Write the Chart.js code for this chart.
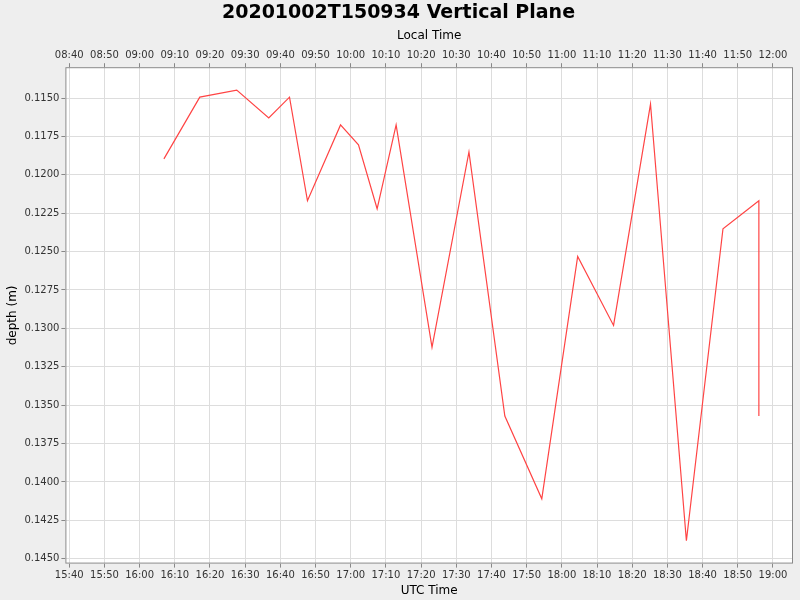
<!DOCTYPE html>
<html>
<head>
<meta charset="utf-8">
<script src="https://cdn.jsdelivr.net/npm/chart.js@4/dist/chart.umd.min.js"></script>
<style>
  body { margin: 0; background: #eeeeee; }
</style>
</head>
<body>
<canvas id="grafico" width="800" height="600"></canvas>
<script>
// minutos desde 15:40 UTC
const minutosUtc = [26.9, 37.1, 47.6, 56.7, 62.6, 67.7, 77.1, 82.2, 87.5, 92.9, 103.1,
  113.6, 123.8, 134.3, 144.5, 154.7, 165.2, 175.4, 185.8, 196.0, 196.0];
const profundidade = [0.11896, 0.11494, 0.11448, 0.11630, 0.11494, 0.12169, 0.11675,
  0.11805, 0.12221, 0.11675, 0.13123, 0.11851, 0.13571, 0.14110, 0.12532, 0.12981,
  0.11539, 0.14383, 0.12351, 0.12169, 0.13571];
const ticksTempo = [0, 10, 20, 30, 40, 50, 60, 70, 80, 90, 100, 110, 120, 130, 140,
  150, 160, 170, 180, 190, 200];
const ticksProfundidade = [0.1150, 0.1175, 0.1200, 0.1225, 0.1250, 0.1275, 0.1300,
  0.1325, 0.1350, 0.1375, 0.1400, 0.1425, 0.1450];
const inicioUtc = 15 * 60 + 40;
const fusoLocal = -7 * 60;

function formatarHora(min) {
  const t = ((Math.round(min) % 1440) + 1440) % 1440;
  return String(Math.floor(t / 60)).padStart(2, '0') + ':' + String(t % 60).padStart(2, '0');
}

const fundoPlot = {
  id: 'fundoPlot',
  beforeDraw(chart) {
    const { ctx, chartArea: a } = chart;
    ctx.save();
    ctx.fillStyle = '#ffffff';
    ctx.fillRect(a.left, a.top, a.width, a.height);
    ctx.restore();
  },
  afterDraw(chart) {
    const { ctx, chartArea: a } = chart;
    ctx.save();
    ctx.strokeStyle = '#888888';
    ctx.lineWidth = 1;
    ctx.strokeRect(a.left + 0.5, a.top + 0.5, a.width - 1, a.height - 1);
    ctx.restore();
  }
};

const grade = { color: '#dddddd', tickColor: '#888888', tickLength: 4 };
const borda = { dash: [3, 3], color: '#888888' };
const fonte = { family: 'DejaVu Sans', size: 10 };

new Chart(document.getElementById('grafico').getContext('2d'), {
  type: 'line',
  data: {
    datasets: [{
      data: minutosUtc.map((m, i) => ({ x: m, y: profundidade[i] })),
      borderColor: '#ff4444',
      borderWidth: 1.2,
      pointRadius: 0,
      tension: 0
    }]
  },
  options: {
    responsive: false,
    animation: false,
    layout: { padding: { left: 4, right: 7, top: 0, bottom: 2 } },
    plugins: {
      legend: { display: false },
      tooltip: { enabled: false },
      title: {
        display: true,
        text: '20201002T150934 Vertical Plane',
        color: '#000000',
        font: { family: 'DejaVu Sans', size: 19, weight: 'bold' },
        padding: { top: 2, bottom: 4 }
      }
    },
    scales: {
      x: {
        type: 'linear',
        position: 'bottom',
        min: -1.1,
        max: 205.7,
        afterBuildTicks: ax => { ax.ticks = ticksTempo.map(v => ({ value: v })); },
        ticks: { color: '#333333', font: fonte, maxRotation: 0, autoSkip: false, padding: 2,
          callback: v => formatarHora(inicioUtc + v) },
        grid: Object.assign({ drawOnChartArea: true }, grade),
        border: { display: false },
        title: { display: true, text: 'UTC Time', color: '#000000',
          font: { family: 'DejaVu Sans', size: 12 }, padding: 0 }
      },
      x2: {
        type: 'linear',
        position: 'top',
        min: -1.1,
        max: 205.7,
        afterBuildTicks: ax => { ax.ticks = ticksTempo.map(v => ({ value: v })); },
        ticks: { color: '#333333', font: fonte, maxRotation: 0, autoSkip: false, padding: 2,
          callback: v => formatarHora(inicioUtc + fusoLocal + v) },
        grid: { drawOnChartArea: false, tickColor: '#888888', tickLength: 4 },
        border: { display: false },
        title: { display: true, text: 'Local Time', color: '#000000',
          font: { family: 'DejaVu Sans', size: 12 }, padding: { top: 0, bottom: 4 } }
      },
      y: {
        type: 'linear',
        reverse: true,
        min: 0.11299,
        max: 0.14532,
        afterBuildTicks: ax => { ax.ticks = ticksProfundidade.map(v => ({ value: v })); },
        ticks: { color: '#333333', font: fonte, padding: 2,
          callback: v => v.toFixed(4) },
        grid: grade,
        border: { display: false },
        title: { display: true, text: 'depth (m)', color: '#000000',
          font: { family: 'DejaVu Sans', size: 12 }, padding: 2 }
      }
    }
  },
  plugins: [fundoPlot, {
    id: 'gradeTracejada',
    beforeDatasetsDraw(chart) {}
  }]
});
</script>
</body>
</html>
